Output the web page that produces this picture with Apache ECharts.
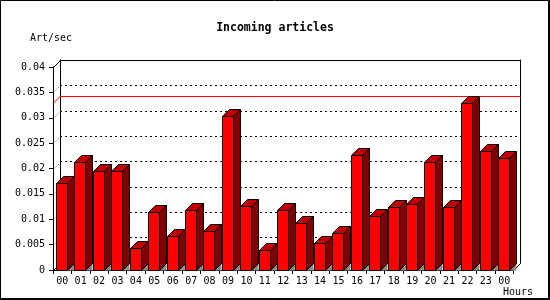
<!DOCTYPE html>
<html><head><meta charset="utf-8">
<script src="https://cdn.jsdelivr.net/npm/echarts@6/dist/echarts.min.js"></script>
<style>html,body{margin:0;padding:0;background:#fff}#c{width:550px;height:300px}</style>
</head><body><div id="c"></div>
<script>
// ---- data ----
const hours = ['00','01','02','03','04','05','06','07','08','09','10','11','12','13','14','15','16','17','18','19','20','21','22','23','00'];
const articlesPerSec = [0.0171,0.0212,0.0195,0.0195,0.0043,0.0114,0.0067,0.0119,0.0077,0.0303,0.0126,0.0039,0.0119,0.0092,0.0053,0.0072,0.0227,0.0106,0.0124,0.0131,0.0212,0.0125,0.0329,0.0235,0.0220];
const yTickValues = [0,0.005,0.01,0.015,0.02,0.025,0.03,0.035,0.04];
const yTickLabels = ['0','0.005','0.01','0.015','0.02','0.025','0.03','0.035','0.04'];
const titleText = 'Incoming articles';
const yUnit = 'Art/sec';
const xUnit = 'Hours';

// ---- styling ----
const DEPTH = 7;
const FONT = 'DejaVu Sans Mono';
const maxVal = Math.max.apply(null, articlesPerSec);
const yMin = yTickValues[0], yMax = yTickValues[yTickValues.length-1], yStep = yTickValues[1]-yTickValues[0];

function renderBar(params, api){
  const i = api.value(0), v = api.value(1);
  const base = api.coord([i, 0]);
  const top = api.coord([i, v]);
  const band = api.size([1, 0])[0];
  const xl = Math.round(base[0] - band/2 + band*0.165) + 0.5;
  const xr = xl + Math.round(band*0.6);
  const y0 = Math.round(base[1]) + 0.5;
  const yt = Math.round(top[1]) + 0.5;
  const d = DEPTH;
  return {type:'group', children:[
    {type:'polygon', shape:{points:[[xr,y0],[xr+d,y0-d],[xr+d,y0]]}, style:{fill:'#8c8c8c', stroke:null}},
    {type:'polygon', shape:{points:[[xr,yt],[xr+d,yt-d],[xr+d,y0-d],[xr,y0]]}, style:{fill:'#800000', stroke:'#000', lineWidth:1}},
    {type:'polygon', shape:{points:[[xl,yt],[xl+d,yt-d],[xr+d,yt-d],[xr,yt]]}, style:{fill:'#c00000', stroke:'#000', lineWidth:1}},
    {type:'rect', shape:{x:xl, y:yt, width:xr-xl, height:y0-yt}, style:{fill:'#ff0000', stroke:'#000', lineWidth:1}}
  ]};
}

function renderDecor(params, api){
  const cs = params.coordSys;
  const d = DEPTH;
  const left = cs.x, right = cs.x + cs.width;
  const children = [];
  yTickValues.forEach(function(t, k){
    const y = Math.round(api.coord([0, t])[1]) + 0.5;
    const solid = (k === 0 || k === yTickValues.length-1);
    children.push({type:'line', shape:{x1:left+0.5, y1:y, x2:left+d+0.5, y2:y-d},
      style:{stroke: solid ? '#000' : '#333', lineWidth:1, lineDash: solid ? null : [1,2]}});
  });
  const yb = Math.round(api.coord([0, 0])[1]) + 0.5;
  children.push({type:'line', shape:{x1:right, y1:yb, x2:right+d, y2:yb-d}, style:{stroke:'#000', lineWidth:1}});
  const ym = Math.round(api.coord([0, maxVal])[1]) + 0.5;
  children.push({type:'polyline', shape:{points:[[left,ym],[left+d,ym-d],[right+d,ym-d]]}, style:{stroke:'#ff0000', lineWidth:1, fill:null}});
  return {type:'group', children:children};
}

const chart = echarts.init(document.getElementById('c'), null, {renderer:'canvas'});
chart.setOption({
  animation:false,
  backgroundColor:'#fff',
  title:{text:titleText, left:'center', top:22, padding:0,
    textStyle:{fontFamily:FONT, fontWeight:'bold', fontSize:11.5, color:'#000'}},
  grid:[
    {left:53, top:67, right:36.5, bottom:30, outerBoundsMode:'none', containLabel:false},
    {left:60, top:60, right:29.5, bottom:37, outerBoundsMode:'none', containLabel:false}
  ],
  xAxis:[
    {gridIndex:0, type:'category', data:hours,
      axisLine:{show:true, onZero:false, lineStyle:{color:'#000', width:1}},
      axisTick:{show:true, length:4, interval:0, alignWithLabel:false, lineStyle:{color:'#000'}},
      axisLabel:{interval:0, margin:6, color:'#000', fontFamily:FONT, fontSize:10},
      splitLine:{show:false}},
    {gridIndex:1, type:'category', data:hours, position:'top',
      axisLine:{show:true, onZero:false, lineStyle:{color:'#000', width:1}},
      axisTick:{show:false}, axisLabel:{show:false}, splitLine:{show:false}}
  ],
  yAxis:[
    {gridIndex:0, type:'value', min:yMin, max:yMax, interval:yStep,
      axisLine:{show:true, lineStyle:{color:'#000', width:1}},
      axisTick:{show:true, length:4, lineStyle:{color:'#000'}},
      axisLabel:{margin:8, color:'#000', fontFamily:FONT, fontSize:10,
        formatter:function(val){ const k = yTickValues.findIndex(function(t){return Math.abs(t-val)<1e-9;}); return k>=0 ? yTickLabels[k] : ''; }},
      splitLine:{show:false}},
    {gridIndex:1, type:'value', min:yMin, max:yMax, interval:yStep,
      axisLine:{show:true, lineStyle:{color:'#000', width:1}},
      axisTick:{show:false}, axisLabel:{show:false},
      splitLine:{show:true, lineStyle:{color:'#000', width:1, type:[2,3]}}},
    {gridIndex:1, type:'value', position:'right', min:yMin, max:yMax, interval:yStep,
      axisLine:{show:true, lineStyle:{color:'#000', width:1}},
      axisTick:{show:false}, axisLabel:{show:false}, splitLine:{show:false}}
  ],
  series:[
    {type:'custom', name:'decor', xAxisIndex:0, yAxisIndex:0, z:1, clip:false, silent:true,
      data:[[0,0]], renderItem:renderDecor},
    {type:'custom', name:'Incoming articles', xAxisIndex:0, yAxisIndex:0, z:3, clip:false,
      encode:{x:0, y:1},
      data:articlesPerSec.map(function(v,i){return [i,v];}), renderItem:renderBar}
  ],
  graphic:[
    {type:'text', left:30, top:33, style:{text:yUnit, fontFamily:FONT, fontSize:10, fill:'#000'}},
    {type:'text', right:17, top:287, style:{text:xUnit, fontFamily:FONT, fontSize:10, fill:'#000'}},
    {type:'rect', shape:{x:0.5, y:0.5, width:548, height:298}, style:{fill:null, stroke:'#000', lineWidth:1}, silent:true},
    {type:'line', shape:{x1:549.5, y1:0, x2:549.5, y2:300}, style:{stroke:'#000', lineWidth:1}, silent:true},
    {type:'line', shape:{x1:0, y1:299.5, x2:550, y2:299.5}, style:{stroke:'#000', lineWidth:1}, silent:true}
  ]
});
</script></body></html>
